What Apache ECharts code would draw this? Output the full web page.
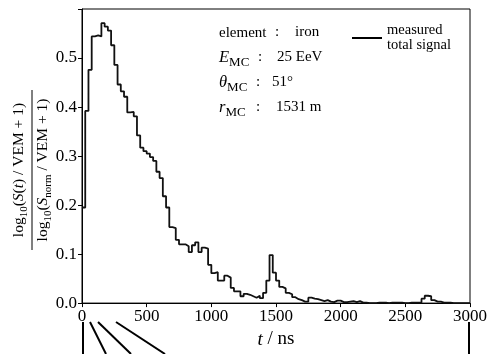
<!DOCTYPE html>
<html>
<head>
<meta charset="utf-8">
<script src="https://cdn.jsdelivr.net/npm/echarts@6/dist/echarts.min.js"></script>
<style>html,body{margin:0;padding:0;background:#fff}#c{width:491px;height:354px}</style>
</head>
<body>
<div id="c"></div>
<script>
// ---- data ----
const binWidthNs = 25;
const signal = [
  0.195,0.392,0.476,0.544,0.546,0.544,0.571,0.564,0.556,0.526,
  0.486,0.446,0.432,0.421,0.389,0.390,0.381,0.342,0.317,0.310,
  0.305,0.298,0.290,0.268,0.255,0.218,0.195,0.155,0.153,0.129,
  0.120,0.120,0.116,0.104,0.118,0.124,0.104,0.113,0.111,0.078,
  0.061,0.063,0.046,0.046,0.056,0.052,0.031,0.024,0.024,0.014,
  0.019,0.017,0.014,0.011,0.015,0.010,0.021,0.046,0.098,0.062,
  0.046,0.033,0.030,0.021,0.018,0.012,0.008,0.006,0.003,0.003,
  0.011,0.009,0.008,0.006,0.004,0.006,0.003,0.002,0.005,0.005,
  0.002,0.002,0.003,0.004,0.002,0.004,0.001,0.001,0,0,
  0,0.001,0.001,0.001,0,0.001,0.001,0.001,0.001,0,
  0,0.001,0.001,0.001,0.001,0.009,0.015,0.014,0.006,0.003,
  0.003,0.001,0.001,0.001,0,0,0,0,0,0
];
const xTicks = [0, 500, 1000, 1500, 2000, 2500, 3000];
const yTicks = [0.0, 0.1, 0.2, 0.3, 0.4, 0.5];
const seriesName = 'measured\ntotal signal';
const infoRows = [
  {label: '{r|element}', value: 'iron'},
  {label: '{i|E}{s|MC}', value: '25 EeV'},
  {label: '{i|θ}{s|MC}', value: '51°'},
  {label: '{i|r}{s|MC}', value: '1531 m'}
];

// ---- build ----
const stepData = signal.map((v, i) => [i * binWidthNs, v]);
stepData.push([signal.length * binWidthNs, signal[signal.length - 1]]);

const F = 'Liberation Serif';
const chart = echarts.init(document.getElementById('c'), null, {renderer: 'canvas'});

const richBase = (fs, sr, fsr) => ({
  r: {fontFamily: F, fontSize: fsr || fs, lineHeight: fs + 6, color: '#000'},
  i: {fontFamily: F, fontSize: fs, fontStyle: 'italic', lineHeight: fs + 6, color: '#000'},
  s: {fontFamily: F, fontSize: Math.round(fs * (sr || 0.7)), lineHeight: Math.round(fs * (sr || 0.7)), verticalAlign: 'bottom', color: '#000'}
});

const infoX = {label: 219, colon: [275, 258, 256, 256], value: [295, 277, 272, 276]};
const infoY = [32, 57, 82, 107];
const infoGraphics = [];
infoRows.forEach((row, k) => {
  infoGraphics.push({type: 'text', x: infoX.label, y: infoY[k] + 1, style: {text: row.label, rich: richBase(16.5, 0.78, 15), verticalAlign: 'middle', fill: '#000'}});
  infoGraphics.push({type: 'text', x: infoX.colon[k], y: infoY[k], style: {text: ':', font: '15px ' + F, fill: '#000', verticalAlign: 'middle'}});
  infoGraphics.push({type: 'text', x: infoX.value[k], y: infoY[k], style: {text: row.value, font: '15px ' + F, fill: '#000', verticalAlign: 'middle'}});
});

const yLabel = {
  type: 'group', x: 32, y: 170, rotation: Math.PI / 2,
  children: [
    {type: 'text', x: 0, y: -2, style: {
      text: '{r|log}{s|10}{r|(}{i|S}{r|(}{i|t}{r|) / VEM + 1)}',
      rich: richBase(15.5), align: 'center', verticalAlign: 'bottom'}},
    {type: 'line', shape: {x1: -80, y1: 0, x2: 80, y2: 0}, style: {stroke: '#000', lineWidth: 1}},
    {type: 'text', x: 0, y: 0, style: {
      text: '{r|log}{s|10}{r|(}{i|S}{s|norm}{r| / VEM + 1)}',
      rich: richBase(15.5), align: 'center', verticalAlign: 'top'}}
  ]
};

const connectors = [
  [83, 322, 83, 354],
  [90, 322, 106, 354],
  [98, 322, 131, 354],
  [116, 322, 165, 354],
  [469, 322, 469, 354]
].map(p => ({type: 'line', shape: {x1: p[0], y1: p[1], x2: p[2], y2: p[3]}, style: {stroke: '#000', lineWidth: 2}}));

chart.setOption({
  animation: false,
  backgroundColor: '#fff',
  grid: {left: 82, top: 9, width: 388, height: 298, show: true, borderColor: '#000', borderWidth: 1, backgroundColor: 'transparent'},
  xAxis: {
    type: 'value', min: xTicks[0], max: xTicks[xTicks.length - 1], interval: 500,
    axisLine: {show: true, lineStyle: {color: '#000', width: 1}},
    axisTick: {show: true, length: 4, lineStyle: {color: '#000'}},
    splitLine: {show: false},
    axisLabel: {fontFamily: F, fontSize: 17, color: '#000', margin: 5, showMinLabel: true, showMaxLabel: true,
      formatter: v => String(v)},
    name: '{i|t}{r| / ns}', nameLocation: 'middle', nameGap: 24,
    nameTextStyle: {rich: {
      i: {fontFamily: F, fontSize: 19, fontStyle: 'italic', color: '#000'},
      r: {fontFamily: F, fontSize: 19, color: '#000'}
    }}
  },
  yAxis: {
    type: 'value', min: 0, max: 0.6, interval: 0.1,
    axisLine: {show: true, lineStyle: {color: '#000', width: 1}},
    axisTick: {show: true, length: 4, lineStyle: {color: '#000'}},
    splitLine: {show: false},
    axisLabel: {fontFamily: F, fontSize: 17, color: '#000', margin: 5,
      formatter: v => (v > yTicks[yTicks.length - 1] + 0.05 ? '' : v.toFixed(1))}
  },
  legend: {
    left: 352, top: 23, padding: 0, itemWidth: 30, itemHeight: 2, icon: 'rect',
    data: [{name: seriesName, itemStyle: {color: '#000'}}],
    textStyle: {fontFamily: F, fontSize: 14.5, lineHeight: 15, color: '#000'}
  },
  series: [{
    name: seriesName, type: 'line', step: 'end', data: stepData,
    symbol: 'none', lineStyle: {color: '#111', width: 1.8}, itemStyle: {color: '#111'}
  }],
  graphic: [yLabel].concat(infoGraphics, connectors)
});
</script>
</body>
</html>
